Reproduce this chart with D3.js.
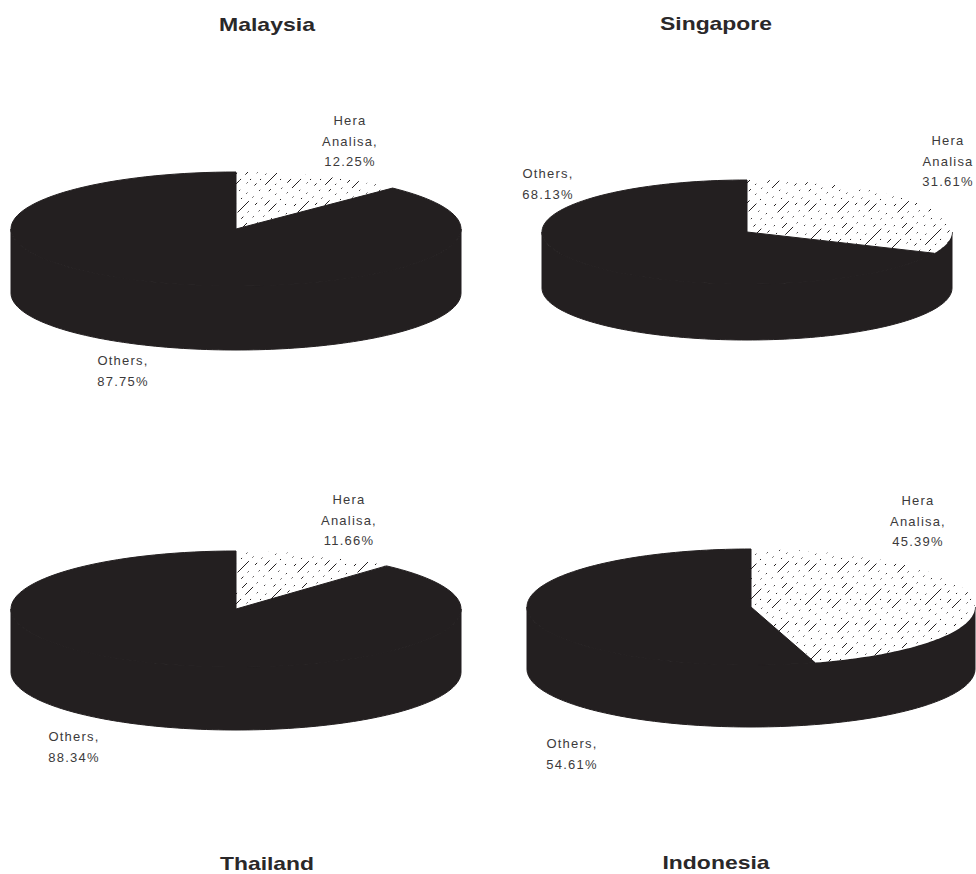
<!DOCTYPE html>
<html>
<head>
<meta charset="utf-8">
<title>Hera Analisa share by country</title>
<script src="https://cdn.jsdelivr.net/npm/d3@7/dist/d3.min.js"></script>
<style>
  html, body { margin: 0; padding: 0; background: #fff; }
  svg { display: block; }
  .title { font: bold 19px "Liberation Sans", Arial, sans-serif; fill: #2a2829; text-anchor: middle; }
  .label { font: 13px "Liberation Sans", Arial, sans-serif; fill: #3c3a3b; text-anchor: middle; letter-spacing: 1.2px; }
</style>
</head>
<body>
<svg id="chart" width="976" height="874"></svg>
<script>
// Market share per country
const countries = ["Malaysia", "Singapore", "Thailand", "Indonesia"];
const heraShare = [12.25, 31.61, 11.66, 45.39];
const otherShare = [87.75, 68.13, 88.34, 54.61];
const seriesNames = ["Hera Analisa", "Others"];

// Layout of each 3D disc: centre, radii and wall depth
const discCx = [236, 747, 236, 751];
const discCy = [229, 232, 609, 607];
const discRx = [225, 205, 225, 224];
const discRy = [57, 52, 58, 58];
const discDepth = [64, 56, 63, 62];

const titleX = [267, 716, 267, 716];
const titleY = [31, 30, 870, 869];
const titleWidth = [96, 112, 94, 107];

// Label anchors: x centre and first baseline
const heraLabelX = [350, 948, 349, 918];
const heraLabelY = [125, 145, 504, 505];
const heraLines = [
  ["Hera", "Analisa,", "12.25%"],
  ["Hera", "Analisa", "31.61%"],
  ["Hera", "Analisa,", "11.66%"],
  ["Hera", "Analisa,", "45.39%"]
];
const otherLabelX = [123, 548, 74, 572];
const otherLabelY = [365, 178, 741, 748];
const otherLines = [
  ["Others,", "87.75%"],
  ["Others,", "68.13%"],
  ["Others,", "88.34%"],
  ["Others,", "54.61%"]
];

const ink = "#231f20";
const svg = d3.select("#chart");

// Hatch fill: broken diagonal strokes, some of them mostly dots
const tile = 60;
const hatchOffsets = [0, 10, 20, 30, 40, 50];
const hatchDashes = ["1.5 6 11 5 1.5 8", "1.5 8 1.5 9", "1.5 6 1.5 10 3 7", "16 5 1.5 8 1.5 7", "1.5 9 3 6", "1.5 7 1.5 7 7 8"];
const hatch = svg.append("defs").append("pattern")
  .attr("id", "hatch")
  .attr("patternUnits", "userSpaceOnUse")
  .attr("width", tile).attr("height", tile);
hatchOffsets.forEach((c, k) => {
  hatch.selectAll(null).data([c, c + tile]).join("line")
    .attr("x1", d => d - tile).attr("y1", tile)
    .attr("x2", d => d).attr("y2", 0)
    .attr("stroke", ink).attr("stroke-width", 1)
    .attr("stroke-dasharray", hatchDashes[k]);
});

const pie = d3.pie().sort(null).startAngle(0).endAngle(2 * Math.PI);

countries.forEach((name, i) => {
  const x = d3.scaleLinear().domain([-1, 1]).range([discCx[i] - discRx[i], discCx[i] + discRx[i]]);
  const y = d3.scaleLinear().domain([-1, 1]).range([discCy[i] + discRy[i], discCy[i] - discRy[i]]);
  const slices = pie([heraShare[i], otherShare[i]]);

  const point = (a, r = 1) => [x(r * Math.sin(a)), y(r * Math.cos(a))];
  const rim = (a0, a1) => d3.range(0, 121).map(k => point(a0 + (a1 - a0) * k / 120));
  const line = d3.line();
  const wedge = d => line([point(0, 0), ...rim(d.startAngle, d.endAngle)]) + "Z";

  const g = svg.append("g").attr("class", "disc").attr("data-country", name);

  // Side wall: the lower half of the rim pushed down by the depth
  const lower = rim(Math.PI / 2, 3 * Math.PI / 2);
  const wall = lower.concat(lower.slice().reverse().map(p => [p[0], p[1] + discDepth[i]]));
  g.append("path").attr("d", line(wall) + "Z").attr("fill", ink).attr("stroke", ink).attr("stroke-width", 1);

  // Top face, one wedge per series
  g.selectAll("path.slice").data(slices).join("path")
    .attr("class", "slice")
    .attr("d", wedge)
    .attr("fill", (d, j) => j === 0 ? "url(#hatch)" : ink)
    .attr("stroke", (d, j) => j === 0 ? "none" : ink)
    .attr("stroke-width", 1)
    .attr("data-series", (d, j) => seriesNames[j]);
  // White backing under the hatched wedge
  g.insert("path", "path.slice").datum(slices[0]).attr("d", wedge).attr("fill", "#fff");

  svg.append("text").attr("class", "title")
    .attr("x", titleX[i]).attr("y", titleY[i])
    .attr("textLength", titleWidth[i]).attr("lengthAdjust", "spacingAndGlyphs")
    .text(name);

  const addLabel = (lines, lx, ly) => {
    svg.append("text").attr("class", "label")
      .selectAll("tspan").data(lines).join("tspan")
      .attr("x", lx).attr("y", (d, k) => ly + k * 20.5)
      .text(d => d);
  };
  addLabel(heraLines[i], heraLabelX[i], heraLabelY[i]);
  addLabel(otherLines[i], otherLabelX[i], otherLabelY[i]);
});
</script>
</body>
</html>
